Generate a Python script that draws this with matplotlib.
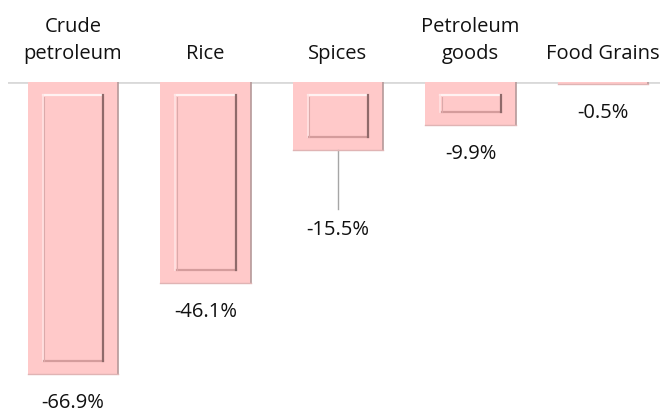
import matplotlib
matplotlib.use("Agg")
import matplotlib.pyplot as plt
from matplotlib.patches import Rectangle
from matplotlib.transforms import blended_transform_factory

# data
categories = ["Crude\npetroleum", "Rice", "Spices", "Petroleum\ngoods", "Food Grains"]
values = [-66.9, -46.1, -15.5, -9.9, -0.5]
value_labels = ["-66.9%", "-46.1%", "-15.5%", "-9.9%", "-0.5%"]

W, H = 660, 414
fig = plt.figure(figsize=(W / 100, H / 100), dpi=100)
plt.rcParams['font.family'] = ['Open Sans', 'DejaVu Sans']

# plot area: baseline at y=83px, 4.36 px per percentage point
ppu = 4.36
ymin = -70
top_px, left_px = 83, 8
bottom_px = top_px - ymin * ppu
ax = fig.add_axes([left_px / W, 1 - bottom_px / H, (W - left_px) / W, (bottom_px - top_px) / H])
ax.set_ylim(ymin, 0)
ax.set_xlim(-0.49, 4.43)
ax.axis('off')
ax.axhline(0, color='#d9d9d9', lw=2, zorder=1)

step_px = 132.5
bw = 0.68
fill = '#ffc9c9'
x = list(range(len(values)))
ax.bar(x, values, width=bw, color=fill, edgecolor='none', zorder=2)

dx = 15 / step_px
dy = 13 / ppu
sx = 1.5 / step_px
for i, v in zip(x, values):
    l, r = i - bw / 2, i + bw / 2
    # soft shadow on the right and bottom edge of the bar
    ax.plot([r, r], [0, v], color='#b59a9a', lw=1.2, zorder=3)
    ax.plot([l, r], [v, v], color='#e0b4b4', lw=1.0, zorder=3)
    if -v * ppu > 35:
        il, ir = l + dx, r - dx
        it, ib = -dy, v + dy
        ax.add_patch(Rectangle((il, ib), ir - il, it - ib, facecolor=fill, edgecolor='none', zorder=3))
        ax.plot([il, ir], [it, it], color='#fff2f2', lw=1.6, zorder=4)
        ax.plot([il, il], [it, ib], color='#ffe3e3', lw=1.2, zorder=4)
        ax.plot([il + sx, ir], [ib, ib], color='#d49c9c', lw=1.6, zorder=4)
        ax.plot([ir, ir], [it, ib], color='#8f6a6a', lw=1.6, zorder=4)
        ax.plot([il + sx, il + sx], [it - 0.4, ib], color='#dcaaaa', lw=0.8, zorder=4)

# value labels under the bars; Spices pushed down with a leader line
fs = 14.5
txt = '#111111'
for i, v, lab in zip(x, values, value_labels):
    if lab == "-15.5%":
        ly = -(230 - top_px) / ppu
        ax.plot([i, i], [v, -(210 - top_px) / ppu], color='#a6a6a6', lw=1, zorder=2)
    else:
        ly = v - 28 / ppu
    ax.text(i, ly, lab, ha='center', va='center', fontsize=fs, color=txt, clip_on=False)

# category labels above the axis
tr = blended_transform_factory(ax.transData, fig.transFigure)
line_base = [59, 32]
for i, cat in zip(x, categories):
    lines = cat.split("\n")[::-1]
    for k, s in enumerate(lines):
        ax.text(i, 1 - line_base[k] / H, s, transform=tr, ha='center', va='baseline',
                fontsize=fs, color=txt, clip_on=False)

fig.savefig("out.png", dpi=100)
